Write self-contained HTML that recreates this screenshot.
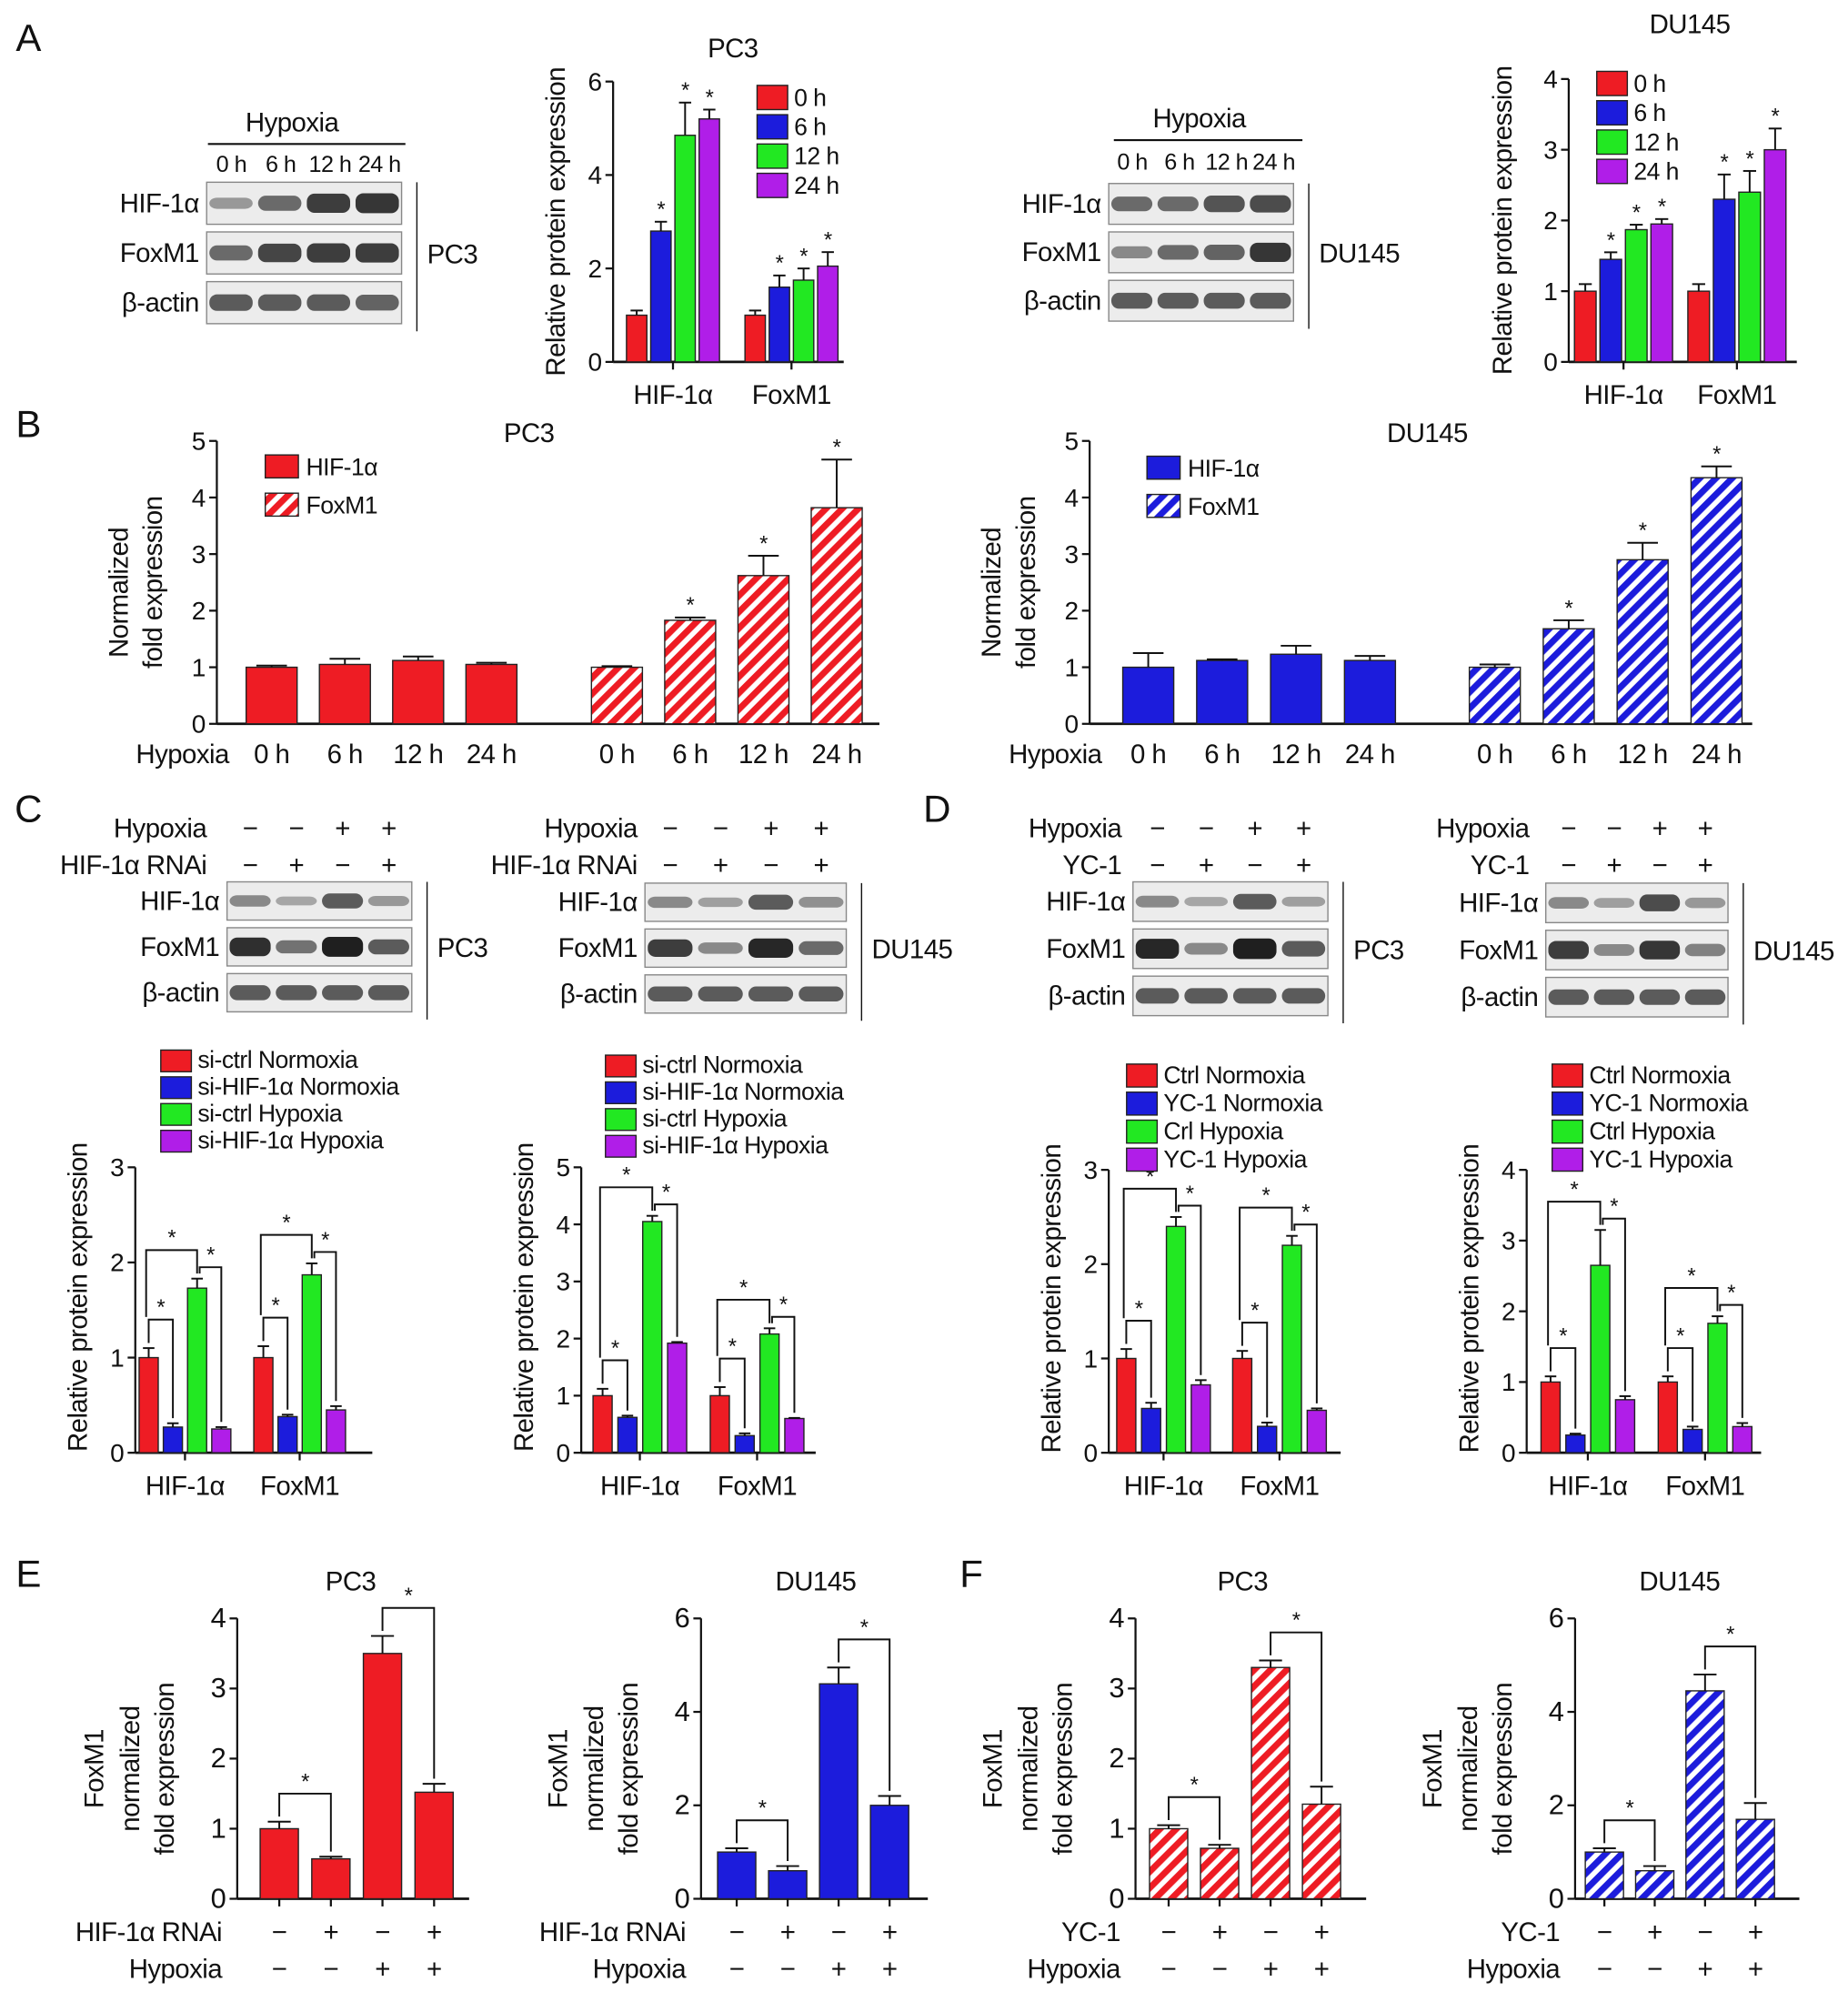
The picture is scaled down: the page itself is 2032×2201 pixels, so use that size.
<!DOCTYPE html>
<html><head><meta charset="utf-8"><style>
html,body{margin:0;padding:0;background:#fff;}
svg{display:block;}
text{font-family:"Liberation Sans","DejaVu Sans",sans-serif;fill:#111;letter-spacing:-0.4px;}
</style></head><body>
<svg id="fig" xmlns="http://www.w3.org/2000/svg" width="2032" height="2201" viewBox="0 0 1450 1571">
<defs>
<pattern id="hr" patternUnits="userSpaceOnUse" width="9" height="9" patternTransform="rotate(45)"><rect width="9" height="9" fill="#fff"/><rect width="5" height="9" fill="#ee1c24"/></pattern>
<pattern id="hb" patternUnits="userSpaceOnUse" width="9" height="9" patternTransform="rotate(45)"><rect width="9" height="9" fill="#fff"/><rect width="5" height="9" fill="#1c1cdc"/></pattern>
</defs>
<g id="root"></g>
</svg>
<script>
// ---------- data ----------
const aGroups=["HIF-1α","FoxM1"];
const aLegend=["0 h","6 h","12 h","24 h"];
const aPC3Vals=[[1,2.8,4.85,5.2],[1,1.6,1.75,2.05]];
const aPC3Errs=[[0.1,0.2,0.7,0.2],[0.1,0.25,0.25,0.3]];
const aPC3Stars=[[0,1,1,1],[0,1,1,1]];
const aPC3Ticks=[0,2,4,6];
const aDUVals=[[1,1.45,1.87,1.95],[1,2.3,2.4,3.0]];
const aDUErrs=[[0.1,0.1,0.07,0.07],[0.1,0.35,0.3,0.3]];
const aDUStars=[[0,1,1,1],[0,1,1,1]];
const aDUTicks=[0,1,2,3,4];
const bCats=["0 h","6 h","12 h","24 h","0 h","6 h","12 h","24 h"];
const bPC3Vals=[1,1.05,1.12,1.05,1,1.83,2.62,3.82];
const bPC3Errs=[0.03,0.1,0.07,0.03,0.02,0.05,0.35,0.85];
const bPC3Stars=[0,0,0,0,0,1,1,1];
const bDUVals=[1,1.12,1.23,1.12,1,1.68,2.9,4.35];
const bDUErrs=[0.25,0.02,0.15,0.08,0.05,0.15,0.3,0.2];
const bDUStars=[0,0,0,0,0,1,1,1];
const bTicks=[0,1,2,3,4,5];
const cLegend=["si-ctrl Normoxia","si-HIF-1α Normoxia","si-ctrl Hypoxia","si-HIF-1α Hypoxia"];
const dLegend=["Ctrl Normoxia","YC-1 Normoxia","Crl Hypoxia","YC-1 Hypoxia"];
const dLegend2=["Ctrl Normoxia","YC-1 Normoxia","Ctrl Hypoxia","YC-1 Hypoxia"];
const cPC3Vals=[[1,0.27,1.73,0.25],[1,0.38,1.87,0.45]];
const cPC3Errs=[[0.1,0.04,0.1,0.02],[0.12,0.02,0.12,0.04]];
const cPC3Ticks=[0,1,2,3];
const cDUVals=[[1,0.62,4.05,1.92],[1,0.3,2.08,0.6]];
const cDUErrs=[[0.12,0.03,0.1,0.02],[0.15,0.04,0.1,0.01]];
const cDUTicks=[0,1,2,3,4,5];
const dPC3Vals=[[1,0.47,2.4,0.72],[1,0.28,2.2,0.45]];
const dPC3Errs=[[0.1,0.06,0.1,0.05],[0.08,0.04,0.1,0.02]];
const dPC3Ticks=[0,1,2,3];
const dDUVals=[[1,0.25,2.65,0.75],[1,0.33,1.83,0.37]];
const dDUErrs=[[0.08,0.02,0.5,0.05],[0.08,0.04,0.1,0.05]];
const dDUTicks=[0,1,2,3,4];
const eCats=["−","+","−","+"];
const eHyp=["−","−","+","+"];
const ePC3Vals=[1,0.57,3.5,1.52];
const ePC3Errs=[0.1,0.03,0.25,0.12];
const ePC3Ticks=[0,1,2,3,4];
const eDUVals=[1,0.6,4.6,2.0];
const eDUErrs=[0.08,0.1,0.35,0.2];
const eDUTicks=[0,2,4,6];
const fPC3Vals=[1,0.72,3.3,1.35];
const fPC3Errs=[0.05,0.05,0.1,0.25];
const fPC3Ticks=[0,1,2,3,4];
const fDUVals=[1,0.6,4.45,1.7];
const fDUErrs=[0.08,0.1,0.35,0.35];
const fDUTicks=[0,2,4,6];

const COLORS=["#ee1c24","#1c1cdc","#22e822","#b01ee8"];
const NS="http://www.w3.org/2000/svg";
const root=document.getElementById('root');
function el(tag,attrs,parent,txt){const e=document.createElementNS(NS,tag);for(const k in attrs)e.setAttribute(k,attrs[k]);if(txt!==undefined)e.textContent=txt;(parent||root).appendChild(e);return e;}
function T(x,y,s,size,anchor,parent,rot){const a={x:x,y:y,'font-size':size||19,'text-anchor':anchor||'middle'};if(rot)a.transform=`rotate(-90 ${x} ${y})`;const t=el('text',a,parent,s);return t;}
function L(x1,y1,x2,y2,p,w){return el('line',{x1,y1,x2,y2,stroke:'#111','stroke-width':w||1.6},p);}

function axis(g,x0,y0,h,ticks,xEnd,fs){const ymax=ticks[ticks.length-1];const Y=v=>y0-v/ymax*h;
 L(x0,y0,x0,y0-h,g);L(x0,y0,xEnd,y0,g,2);
 ticks.forEach(t=>{L(x0-6,Y(t),x0,Y(t),g);T(x0-9,Y(t)+7,String(t),fs||20,'end',g);});return Y;}
function bar(g,cx,w,Y,v,e,fill,name){const r=el('rect',{x:cx-w/2,y:Y(v),width:w,height:Y(0)-Y(v),fill:fill,stroke:'#222','stroke-width':1},g);
 
 L(cx,Y(v),cx,Y(v+e),g,1.4);L(cx-w*0.3,Y(v+e),cx+w*0.3,Y(v+e),g,1.4);return Y(v+e);}
function star(g,x,y){T(x,y,'*',17,'middle',g);}
function bracket(g,xa,xb,ya,yb,lvl){el('path',{d:`M${xa} ${ya} V${lvl} H${xb} V${yb}`,fill:'none',stroke:'#111','stroke-width':1.4},g);star(g,(xa+xb)/2,lvl-4);}

function grouped(o){const g=el('g',{});
 const Y=axis(g,o.x0,o.y0,o.h,o.ticks,o.xEnd);
 o.vals.forEach((gv,gi)=>{const base=o.gx[gi];const tops=[];
  gv.forEach((v,i)=>{const cx=base+(i-1.5)*o.step;tops.push(bar(g,cx,o.bw,Y,v,o.errs[gi][i],COLORS[i],'bar-'+o.groups[gi]+'-'+i));
   if(o.stars&&o.stars[gi][i])star(g,cx,Y(v+o.errs[gi][i])-4);});
  L(base,o.y0,base,o.y0+6,g);
  T(base,o.y0+33,o.groups[gi],21,'middle',g);
  if(o.brackets){const ym=o.ticks[o.ticks.length-1];const cx=i=>base+(i-1.5)*o.step;
   const l01=Y(Math.max(gv[0]+o.errs[gi][0],gv[1])+ym*0.1);
   const l02=Y(gv[2]+o.errs[gi][2]+ym*0.1);const l23=Y(gv[2]+o.errs[gi][2]+ym*0.04);
   bracket(g,cx(0),cx(1),tops[0]-4,tops[1]-4,l01);
   bracket(g,cx(0)-2,cx(2),l01-2,tops[2]-4,l02);
   bracket(g,cx(2)+2,cx(3),tops[2]-4,tops[3]-4,l23);}
 });
 T(o.x0-o.tx,o.y0-o.h/2+(o.tdy||0),'Relative protein expression',21,'middle',g,true);
 if(o.title)T(o.title[0],o.title[1],o.title[2],21,'middle',g);
 o.legend.forEach((s,i)=>{const ly=o.lg[1]+i*o.lg[2];const r=el('rect',{x:o.lg[0],y:ly,width:o.lg[3],height:o.lg[2]-4,fill:COLORS[i],stroke:'#222','stroke-width':1},g);
  T(o.lg[0]+o.lg[3]+5,ly+o.lg[2]-7,s,19,'start',g);});
}
function timeChart(o){const g=el('g',{});
 const Y=axis(g,o.x0,o.y0,o.h,bTicks,o.xEnd);
 o.vals.forEach((v,i)=>{const cx=o.cx0+(i<4?i*o.step:o.gap+i*o.step);const f=i<4?o.solid:o.hatch;
  bar(g,cx,40,Y,v,o.errs[i],f,'bar-'+i);if(o.stars[i])star(g,cx,Y(v+o.errs[i])-4);
  T(cx,o.y0+31,bCats[i],21,'middle',g);});
 T(o.x0-27,o.y0+31,'Hypoxia',21,'middle',g);
 T(o.x0-70,o.y0-o.h/2+8,'Normalized',21,'middle',g,true);T(o.x0-43,o.y0-o.h/2,'fold expression',21,'middle',g,true);
 T(o.title[0],o.title[1],o.title[2],21,'middle',g);
 const lx=o.lx,ly=o.ly;
 const r1=el('rect',{x:lx,y:ly,width:26,height:18,fill:o.solid,stroke:'#222'},g);
 T(lx+32,ly+16,'HIF-1α',19,'start',g);
 const r2=el('rect',{x:lx,y:ly+30,width:26,height:18,fill:o.hatch,stroke:'#222'},g);
 T(lx+32,ly+46,'FoxM1',19,'start',g);
}
function fourChart(o){const g=el('g',{});
 const Y=axis(g,o.x0,o.y0,o.h,o.ticks,o.xEnd,22);const tops=[];const cx=i=>o.cx0+i*o.step;
 o.vals.forEach((v,i)=>{tops.push(bar(g,cx(i),30,Y,v,o.errs[i],o.fill,'bar-'+i));L(cx(i),o.y0,cx(i),o.y0+6,g);
  T(cx(i),o.y0+33,eCats[i],21,'middle',g);T(cx(i),o.y0+62,eHyp[i],21,'middle',g);});
 const ym=o.ticks[o.ticks.length-1];
 const l1=Y(Math.max(o.vals[0]+o.errs[0],o.vals[1]+o.errs[1])+ym*0.1);bracket(g,cx(0),cx(1),tops[0]-4,tops[1]-4,l1);
 const l2=Y(Math.max(o.vals[2]+o.errs[2],o.vals[3])+ym*0.1);bracket(g,cx(2),cx(3),tops[2]-4,tops[3]-4,l2);
 T(o.x0-12,o.y0+33,o.lab,21,'end',g);T(o.x0-12,o.y0+62,'Hypoxia',21,'end',g);
 T(o.x0-105,o.y0-o.h/2+8,'FoxM1',21,'middle',g,true);T(o.x0-77,o.y0-o.h/2+8,'normalized',21,'middle',g,true);T(o.x0-50,o.y0-o.h/2+8,'fold expression',21,'middle',g,true);
 T(o.title[0],o.title[1],o.title[2],21,'middle',g);
}
function blot(o){const g=el('g',{});
 o.rows.forEach((r,ri)=>{const y=o.y+ri*o.rh;el('rect',{x:o.x,y:y,width:o.w,height:o.rh-6,fill:'#ececec',stroke:'#888','stroke-width':1},g);
  r.b.forEach((d,i)=>{const cx=o.x+o.w*(i+0.5)/4;el('rect',{x:cx-o.w/9,y:y+(o.rh-6)/2-(o.rh-6)*(0.1+0.16*d),width:o.w*2/9,height:2*(o.rh-6)*(0.1+0.16*d),rx:6,fill:`rgba(20,20,20,${0.25+0.7*d})`},g);});
  T(o.x-6,y+(o.rh-6)/2+7,r.n,21,'end',g);});
 L(o.x+o.w+12,o.y,o.x+o.w+12,o.y+o.rows.length*o.rh,g,1);
 T(o.x+o.w+20,o.y+o.rows.length*o.rh/2+5,o.cell,21,'start',g);
}
function lanes(x,w,y,labs,size){labs.forEach((s,i)=>T(x+w*(i+0.5)/4,y,s,size||18,'middle'));}

[["A",22,40],["B",22,343],["C",22,645],["D",735,645],["E",22,1245],["F",762,1245]].forEach(a=>{T(a[1],a[2],a[0],30,'middle');});

// Panel A
T(229,103,'Hypoxia',21);L(163,113,318,113,null,1.5);lanes(162,155,135,["0 h","6 h","12 h","24 h"],18);
blot({name:'blot-a-pc3',x:162,y:143,w:153,rh:39,cell:'PC3',rows:[{n:'HIF-1α',b:[0.2,0.5,0.8,0.85]},{n:'FoxM1',b:[0.5,0.75,0.8,0.8]},{n:'β-actin',b:[0.6,0.6,0.6,0.55]}]});
grouped({name:'chart-a-pc3',x0:481,y0:284,h:220,ticks:aPC3Ticks,xEnd:662,gx:[528,621],step:19,bw:16,vals:aPC3Vals,errs:aPC3Errs,stars:aPC3Stars,groups:aGroups,tx:38,title:[575,45,'PC3'],legend:aLegend,lg:[594,67,23,24]});
T(941,100,'Hypoxia',21);L(874,110,1022,110,null,1.5);lanes(870,148,133,["0 h","6 h","12 h","24 h"],18);
blot({name:'blot-a-du145',x:870,y:144,w:145,rh:38,cell:'DU145',rows:[{n:'HIF-1α',b:[0.5,0.5,0.65,0.7]},{n:'FoxM1',b:[0.3,0.5,0.55,0.85]},{n:'β-actin',b:[0.6,0.6,0.6,0.6]}]});
grouped({name:'chart-a-du145',x0:1231,y0:284,h:222,ticks:aDUTicks,xEnd:1410,gx:[1274,1363],step:20,bw:17,vals:aDUVals,errs:aDUErrs,stars:aDUStars,groups:aGroups,tx:45,title:[1326,26,'DU145'],legend:aLegend,lg:[1253,56,23,24]});

// Panel B
timeChart({name:'chart-b-pc3',x0:170,y0:568,h:222,xEnd:690,cx0:213,step:57.5,gap:41,vals:bPC3Vals,errs:bPC3Errs,stars:bPC3Stars,solid:'#ee1c24',hatch:'url(#hr)',title:[415,347,'PC3'],lx:208,ly:357});
timeChart({name:'chart-b-du145',x0:855,y0:568,h:222,xEnd:1375,cx0:901,step:58,gap:40,vals:bDUVals,errs:bDUErrs,stars:bDUStars,solid:'#1c1cdc',hatch:'url(#hb)',title:[1120,347,'DU145'],lx:900,ly:358});

// Panel C/D blots
function pm(x,w,y,labs){labs.forEach((s,i)=>T(x+w*(i+0.5)/4,y,s,21,'middle'));}
function ctrlRows(x,w,lab2,bx){T(bx,657,'Hypoxia',21,'end');T(bx,686,lab2,21,'end');pm(x,w,657,["−","−","+","+"]);pm(x,w,686,["−","+","−","+"]);}
ctrlRows(178,145,'HIF-1α RNAi',162);
blot({name:'blot-c-pc3',x:178,y:692,w:145,rh:36,cell:'PC3',rows:[{n:'HIF-1α',b:[0.3,0.1,0.6,0.2]},{n:'FoxM1',b:[0.9,0.45,1,0.6]},{n:'β-actin',b:[0.6,0.6,0.6,0.6]}]});
ctrlRows(506,158,'HIF-1α RNAi',500);
blot({name:'blot-c-du145',x:506,y:693,w:158,rh:36,cell:'DU145',rows:[{n:'HIF-1α',b:[0.3,0.15,0.6,0.25]},{n:'FoxM1',b:[0.8,0.3,0.95,0.5]},{n:'β-actin',b:[0.6,0.6,0.6,0.6]}]});
ctrlRows(889,153,'YC-1',880);
blot({name:'blot-d-pc3',x:889,y:692,w:153,rh:37,cell:'PC3',rows:[{n:'HIF-1α',b:[0.3,0.1,0.6,0.15]},{n:'FoxM1',b:[0.95,0.3,1,0.6]},{n:'β-actin',b:[0.6,0.6,0.6,0.6]}]});
ctrlRows(1213,143,'YC-1',1200);
blot({name:'blot-d-du145',x:1213,y:693,w:143,rh:37,cell:'DU145',rows:[{n:'HIF-1α',b:[0.3,0.15,0.7,0.2]},{n:'FoxM1',b:[0.8,0.3,0.85,0.35]},{n:'β-actin',b:[0.6,0.6,0.6,0.6]}]});

// Panel C/D charts
grouped({name:'chart-c-pc3',x0:106,y0:1140,h:224,ticks:cPC3Ticks,xEnd:292,gx:[145,235],step:19,bw:15,vals:cPC3Vals,errs:cPC3Errs,groups:aGroups,brackets:true,tx:38,tdy:-10,legend:cLegend,lg:[126,824,21,24]});
grouped({name:'chart-c-du145',x0:456,y0:1140,h:224,ticks:cDUTicks,xEnd:640,gx:[502,594],step:19.5,bw:15,vals:cDUVals,errs:cDUErrs,groups:aGroups,brackets:true,tx:38,tdy:-10,legend:cLegend,lg:[475,828,21,24]});
grouped({name:'chart-d-pc3',x0:870,y0:1140,h:222,ticks:dPC3Ticks,xEnd:1052,gx:[913,1004],step:19.5,bw:15,vals:dPC3Vals,errs:dPC3Errs,groups:aGroups,brackets:true,tx:38,tdy:-10,legend:dLegend,lg:[884,835,22,24]});
grouped({name:'chart-d-du145',x0:1198,y0:1140,h:222,ticks:dDUTicks,xEnd:1382,gx:[1246,1338],step:19.5,bw:15,vals:dDUVals,errs:dDUErrs,groups:aGroups,brackets:true,tx:38,tdy:-10,legend:dLegend2,lg:[1218,835,22,24]});

// Panel E/F
fourChart({name:'chart-e-pc3',x0:186,y0:1490,h:220,xEnd:368,ticks:ePC3Ticks,cx0:219,step:40.5,vals:ePC3Vals,errs:ePC3Errs,fill:'#ee1c24',lab:'HIF-1α RNAi',title:[275,1248,'PC3']});
fourChart({name:'chart-e-du145',x0:550,y0:1490,h:220,xEnd:728,ticks:eDUTicks,cx0:578,step:40,vals:eDUVals,errs:eDUErrs,fill:'#1c1cdc',lab:'HIF-1α RNAi',title:[640,1248,'DU145']});
fourChart({name:'chart-f-pc3',x0:891,y0:1490,h:220,xEnd:1072,ticks:fPC3Ticks,cx0:917,step:40,vals:fPC3Vals,errs:fPC3Errs,fill:'url(#hr)',lab:'YC-1',title:[975,1248,'PC3']});
fourChart({name:'chart-f-du145',x0:1236,y0:1490,h:220,xEnd:1412,ticks:fDUTicks,cx0:1259,step:39.5,vals:fDUVals,errs:fDUErrs,fill:'url(#hb)',lab:'YC-1',title:[1318,1248,'DU145']});
</script>
</body></html>
